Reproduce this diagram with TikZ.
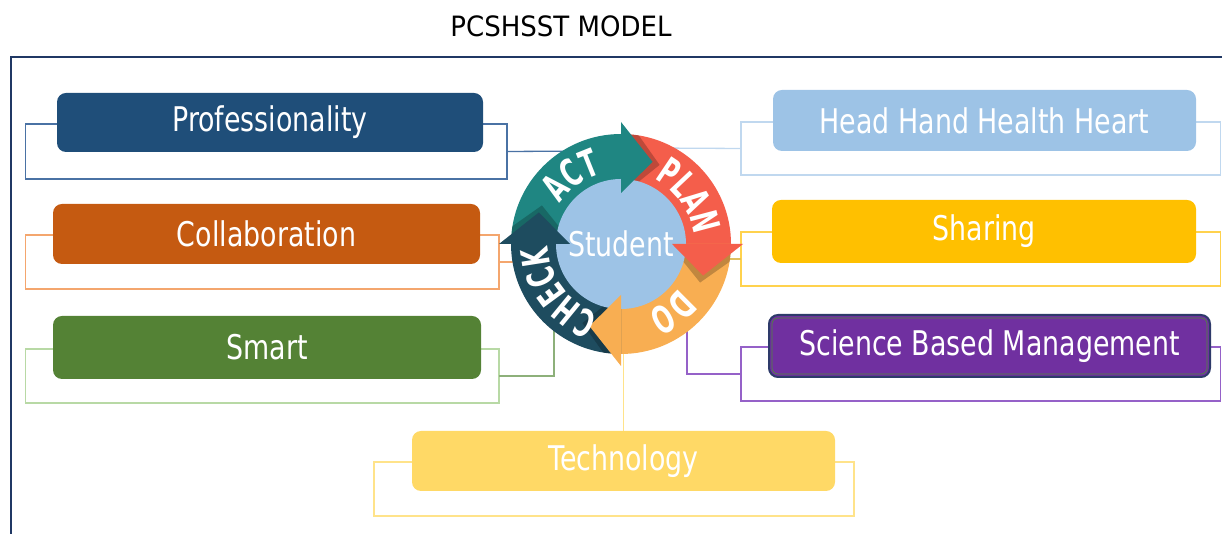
\documentclass[tikz,border=0pt]{standalone}
\usepackage{fontspec}
\setmainfont{DejaVu Sans}[FakeStretch=0.79]
\newfontfamily\titlefont{DejaVu Sans}[FakeStretch=0.93]
\newfontfamily\cycfont{DejaVu Sans}[FakeStretch=0.63]
\usetikzlibrary{calc,decorations.text}
\newcommand\boxfont{\fontsize{34}{40}\selectfont}
\newcommand\cycfnt{\cycfont\bfseries\fontsize{38}{38}\selectfont}
\definecolor{framec}{HTML}{203864}
\definecolor{pfill}{HTML}{1F4E79}
\definecolor{poutl}{HTML}{4A72A4}
\definecolor{cfill}{HTML}{C55A11}
\definecolor{coutl}{HTML}{F4A66E}
\definecolor{sfill}{HTML}{548235}
\definecolor{soutl}{HTML}{B8D9A5}
\definecolor{sconn}{HTML}{8DB07A}
\definecolor{tfill}{HTML}{FFD966}
\definecolor{toutl}{HTML}{FFE38A}
\definecolor{hfill}{HTML}{9DC3E6}
\definecolor{houtl}{HTML}{C0D8EF}
\definecolor{shfill}{HTML}{FFC000}
\definecolor{shoutl}{HTML}{FFD24D}
\definecolor{shconn}{HTML}{E0C060}
\definecolor{sbmfill}{HTML}{7030A0}
\definecolor{sbmoutl}{HTML}{9561C8}
\definecolor{sbmborder}{HTML}{2E3A6A}
\definecolor{sbmgreen}{HTML}{4E8A3A}
\definecolor{actc}{HTML}{1F8682}
\definecolor{planc}{HTML}{F45E4B}
\definecolor{doc}{HTML}{F8AE52}
\definecolor{checkc}{HTML}{1E4C5F}
\definecolor{hubc}{HTML}{9DC3E6}
\begin{document}
\begin{tikzpicture}[x=1pt,y=1pt,
  fbox/.style={rounded corners=9pt, inner sep=0pt, outer sep=0pt, text=white, font=\boxfont},
  obox/.style={draw, line width=1.3pt, inner sep=0pt, outer sep=0pt},
  conn/.style={line width=1.3pt}]
\useasboundingbox (0,0) rectangle (1222,534);
% title and frame
\node[font=\titlefont\fontsize{28}{32}\selectfont, inner sep=0pt] (title) at (561,508) {PCSHSST MODEL};
\draw[framec, line width=2.3pt] (10.7,0) -- (10.7,477.3) -- (1222,477.3);
% hidden junction points under the cycle
\coordinate (C) at (621,290);
\coordinate (jP) at (600,383);
\coordinate (jC) at (578,272);
\coordinate (jS) at (554,232);
\coordinate (jT) at (624,240);
\coordinate (jH) at (650,386);
\coordinate (jSh) at (672,275);
\coordinate (jB) at (687,232);
% outline boxes
\node[obox, draw=poutl, minimum width=481.5pt, minimum height=55pt] (po) at (266.25,382.5) {};
\node[obox, draw=coutl, minimum width=473.5pt, minimum height=54pt] (co) at (262.25,272) {};
\node[obox, draw=soutl, minimum width=473.5pt, minimum height=54pt] (so) at (262.25,158) {};
\node[obox, draw=toutl, minimum width=480pt, minimum height=54pt] (to) at (614,45) {};
\node[obox, draw=houtl, minimum width=479.5pt, minimum height=53pt] (ho) at (980.75,385.5) {};
\node[obox, draw=shoutl, minimum width=479.5pt, minimum height=54pt] (sho) at (980.75,275) {};
\node[obox, draw=sbmoutl, minimum width=479.5pt, minimum height=54pt] (bo) at (980.75,160) {};
% filled boxes
\node[fbox, fill=pfill, minimum width=426pt, minimum height=59pt] (pf) at (270,411.5) {Professionality};
\node[fbox, fill=cfill, minimum width=427pt, minimum height=60pt] (cf) at (266.5,300) {Collaboration};
\node[fbox, fill=sfill, minimum width=428pt, minimum height=63pt] (sf) at (267,186.5) {Smart};
\node[fbox, fill=tfill, minimum width=423pt, minimum height=60pt] (tf) at (623.5,73) {Technology};
\node[fbox, fill=hfill, minimum width=423pt, minimum height=61pt] (hf) at (984.5,413.5) {Head Hand Health Heart};
\node[fbox, fill=shfill, minimum width=424pt, minimum height=63pt] (shf) at (984,302.5) {Sharing};
\node[fbox, fill=sbmfill, draw=sbmborder, line width=2pt, minimum width=441pt, minimum height=62pt] (bf) at (989.5,188) {};
\draw[sbmgreen, line width=0.7pt, rounded corners=6pt] ([shift={(3pt,3pt)}]bf.south west) rectangle ([shift={(-3pt,-3pt)}]bf.north east);
\node[text=white, font=\boxfont, inner sep=0pt] (bt) at (bf.center) {Science Based Management};
% connectors
\draw[conn, poutl] (po.east) -- (jP);
\draw[conn, coutl] (co.east) -- (jC);
\draw[conn, sconn] (so.east) -| (jS);
\draw[conn, toutl] (tf.north) -- (tf.north |- jT);
\draw[conn, houtl] (ho.west) -- (jH);
\draw[conn, shconn] (sho.west) -- (jSh);
\draw[conn, sbmoutl] (bo.west) -| (jB);
% cycle bodies
\foreach \a/\col in {180/actc, 90/planc, 0/doc, -90/checkc}{
  \fill[\col] ($(C)+(\a:110pt)$) arc[start angle=\a, delta angle=-90, radius=110pt]
    -- ($(C)+({\a-90}:64pt)$) arc[start angle={\a-90}, delta angle=90, radius=64pt] -- cycle;
}
% shadows of the heads
\begin{scope}
  \clip (C) circle[radius=110pt];
  \foreach \b in {90, 0, -90, -180}{
    \fill[black, opacity=0.22] ($(C)+({\b-4}:51pt)$) -- ($(C)+({\b-4}:122pt)$) -- ($(C)+({\b-26}:88pt)$) -- cycle;
  }
\end{scope}
% hub
\node[circle, fill=hubc, minimum size=130pt, inner sep=0pt] (hub) at (C) {};
% heads
\foreach \b/\col in {90/actc, 0/planc, -90/doc, -180/checkc}{
  \fill[\col] ($(C)+(\b:51pt)$) -- ($(C)+(\b:122pt)$) -- ($(C)+({\b-21}:88pt)$) -- cycle;
}
% labels on the ring
\path[decorate, decoration={text along path, text={|\cycfnt|ACT}, text align=center, text color=white}]
  ($(C)+(170:73pt)$) arc[start angle=170, delta angle=-88, radius=73pt];
\path[decorate, decoration={text along path, text={|\cycfnt|PLAN}, text align=center, text color=white}]
  ($(C)+(79:73pt)$) arc[start angle=79, delta angle=-88, radius=73pt];
\path[decorate, decoration={text along path, text={|\cycfnt|DO}, text align=center, text color=white}]
  ($(C)+(-9:73pt)$) arc[start angle=-9, delta angle=-88, radius=73pt];
\path[decorate, decoration={text along path, text={|\cycfnt|CHECK}, text align=center, text color=white}]
  ($(C)+(-99:73pt)$) arc[start angle=-99, delta angle=-88, radius=73pt];
\node[text=white, font=\boxfont, inner sep=0pt] (student) at (C) {Student};
\end{tikzpicture}
\end{document}
